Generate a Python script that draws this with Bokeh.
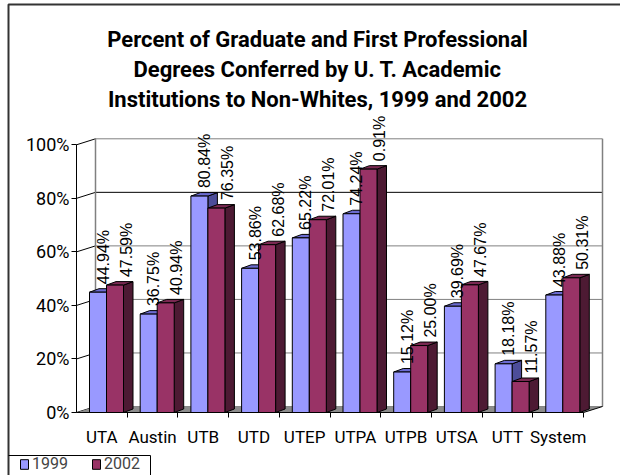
import math
from bokeh.plotting import figure
from bokeh.models import (Range1d, FixedTicker, PrintfTickFormatter, Legend,
                          LegendItem, LinearAxis)
from bokeh.core.properties import value
from bokeh.embed import file_html
from bokeh.resources import INLINE

# ---------------- data ----------------
categories = ["UTA", "Austin", "UTB", "UTD", "UTEP", "UTPA", "UTPB", "UTSA", "UTT", "System"]
series_names = ["1999", "2002"]
pct_1999 = [44.94, 36.75, 80.84, 53.86, 65.22, 74.24, 15.12, 39.69, 18.18, 43.88]
pct_2002 = [47.59, 40.94, 76.35, 62.68, 72.01, 90.91, 25.00, 47.67, 11.57, 50.31]
labels_1999 = ["44.94%", "36.75%", "80.84%", "53.86%", "65.22%", "74.24%", "15.12%", "39.69%", "18.18%", "43.88%"]
labels_2002 = ["47.59%", "40.94%", "76.35%", "62.68%", "72.01%", "0.91%", "25.00%", "47.67%", "11.57%", "50.31%"]
y_ticks = [0, 20, 40, 60, 80, 100]
title_lines = ["Percent of Graduate and First Professional",
               "Degrees Conferred by U. T. Academic",
               "Institutions to Non-Whites, 1999 and 2002"]

# ---------------- geometry ----------------
W, H = 620, 475
AX_X, AX_Y = 76, 412     # pixel position of the axes corner
PX_X = 50.7              # px per category
PX_Y = 2.677             # px per percent
x0 = 0.5
n = len(categories)
x_end = x0 + n


def gx(px):   # canvas px -> data x
    return x0 + (px - AX_X) / PX_X


def gy(py):   # canvas px (from top) -> data y
    return (AX_Y - py) / PX_Y


WALL_DX, WALL_DY = 19 / PX_X, 6 / PX_Y
BAR_OFF, BAR_W = 13 / PX_X, 17 / PX_X
BAR_DX, BAR_DY = 9.5 / PX_X, 3.5 / PX_Y
LBL_DX = [5 / PX_X, 11 / PX_X]
LBL_GAP = 8 / PX_Y

C_FRONT = ["#9999FF", "#993366"]
C_TOP = ["#6B6BD0", "#7A2952"]
C_SIDE = ["#4D4D99", "#4D1A33"]
GRID = "#808080"
FONT = "Roboto"

p = figure(width=W, height=H, output_backend="svg", toolbar_location=None, title=None,
           x_axis_location=None, y_axis_location=None,
           x_range=Range1d(gx(0), gx(W)), y_range=Range1d(gy(H), gy(0)),
           min_border_left=0, min_border_right=0, min_border_top=0, min_border_bottom=0,
           outline_line_color=None, background_fill_color="white",
           border_fill_color="white")
p.grid.visible = False

# ---------------- outer chart border ----------------
p.line([gx(8), gx(8), gx(W + 5)], [gy(H + 5), gy(4), gy(4)], line_color="#333333", line_width=2)

# ---------------- title ----------------
p.text(x=[gx(317)] * 3, y=[gy(39), gy(69), gy(99)], text=title_lines,
       text_align="center", text_baseline="alphabetic", text_font=value(FONT),
       text_font_size="22px", text_font_style="bold", text_color="black")

# ---------------- walls / floor ----------------
for t in y_ticks:
    col = "black" if t == 80 else GRID
    p.line([x0 + WALL_DX, x_end + WALL_DX], [t + WALL_DY, t + WALL_DY], line_color=col, line_width=1)
    p.line([x0, x0 + WALL_DX], [t, t + WALL_DY], line_color="black", line_width=1)
p.line([x0 + WALL_DX, x0 + WALL_DX], [WALL_DY, 100 + WALL_DY], line_color=GRID, line_width=1.5)
p.line([x_end + WALL_DX, x_end + WALL_DX], [WALL_DY, 100 + WALL_DY], line_color=GRID, line_width=1.5)
p.patch([x0, x_end, x_end + WALL_DX, x0 + WALL_DX], [0, 0, WALL_DY, WALL_DY],
        fill_color="#8C8C8C", line_color=None)
p.line([x_end, x_end + WALL_DX], [0, WALL_DY], line_color="black", line_width=1)

# ---------------- bars ----------------
front_renderers = []
for s, vals in enumerate([pct_1999, pct_2002]):
    lefts = [x0 + i + BAR_OFF + s * BAR_W for i in range(n)]
    rights = [l + BAR_W for l in lefts]
    side_xs = [[r, r + BAR_DX, r + BAR_DX, r] for r in rights]
    side_ys = [[0, BAR_DY, v + BAR_DY, v] for v in vals]
    top_xs = [[l, l + BAR_DX, r + BAR_DX, r] for l, r in zip(lefts, rights)]
    top_ys = [[v, v + BAR_DY, v + BAR_DY, v] for v in vals]
    p.patches(side_xs, side_ys, fill_color=C_SIDE[s], line_color="black", line_width=1)
    p.patches(top_xs, top_ys, fill_color=C_TOP[s], line_color="black", line_width=1)
    r = p.quad(left=lefts, right=rights, bottom=0, top=vals,
               fill_color=C_FRONT[s], line_color="black", line_width=1)
    front_renderers.append(r)

# ---------------- data labels ----------------
for s, (vals, labs) in enumerate([(pct_1999, labels_1999), (pct_2002, labels_2002)]):
    xs = [x0 + i + BAR_OFF + s * BAR_W + BAR_W / 2 + LBL_DX[s] for i in range(n)]
    ys = [v + LBL_GAP for v in vals]
    p.text(x=xs, y=ys, text=labs, angle=math.pi / 2, text_align="left",
           text_baseline="middle", text_font=value("Liberation Sans"),
           text_font_size="16px", text_color="black")

# ---------------- axes (fixed inside the plot area) ----------------
xa = LinearAxis(fixed_location=0)
xa.ticker = FixedTicker(ticks=[i + 1 for i in range(n)], minor_ticks=[i + 1.5 for i in range(n)])
xa.major_label_overrides = {i + 1: c for i, c in enumerate(categories)}
xa.bounds = (x0, x_end)
xa.major_tick_out = 0
xa.major_tick_in = 0
xa.minor_tick_out = 5
xa.minor_tick_in = 0
xa.axis_line_color = "black"
xa.major_label_standoff = 9
xa.major_label_text_font = FONT
xa.major_label_text_font_size = "17px"
xa.major_label_text_color = "black"
p.add_layout(xa, "below")

ya = LinearAxis(fixed_location=x0)
ya.ticker = FixedTicker(ticks=y_ticks, minor_ticks=[])
ya.formatter = PrintfTickFormatter(format="%d%%")
ya.bounds = (0, 100)
ya.major_tick_out = 5
ya.major_tick_in = 0
ya.minor_tick_out = 0
ya.axis_line_color = "black"
ya.major_label_standoff = 2
ya.major_label_text_font = FONT
ya.major_label_text_font_size = "18px"
ya.major_label_text_color = "black"
p.add_layout(ya, "left")

# ---------------- legend ----------------
# frame of the legend box (top and right edges; left edge coincides with the chart border)
p.line([gx(8), gx(150), gx(150)], [gy(455), gy(455), gy(H + 5)], line_color="black", line_width=1)
legend = Legend(items=[LegendItem(label=series_names[0], renderers=[front_renderers[0]]),
                       LegendItem(label=series_names[1], renderers=[front_renderers[1]])],
                orientation="horizontal", location=(19, 2),
                padding=3, margin=0, spacing=23, glyph_width=10, glyph_height=12,
                label_standoff=3, label_text_font=FONT, label_text_font_size="16px",
                border_line_color=None, background_fill_alpha=0)
p.add_layout(legend)

open("out.html", "w").write(file_html(p, INLINE))
